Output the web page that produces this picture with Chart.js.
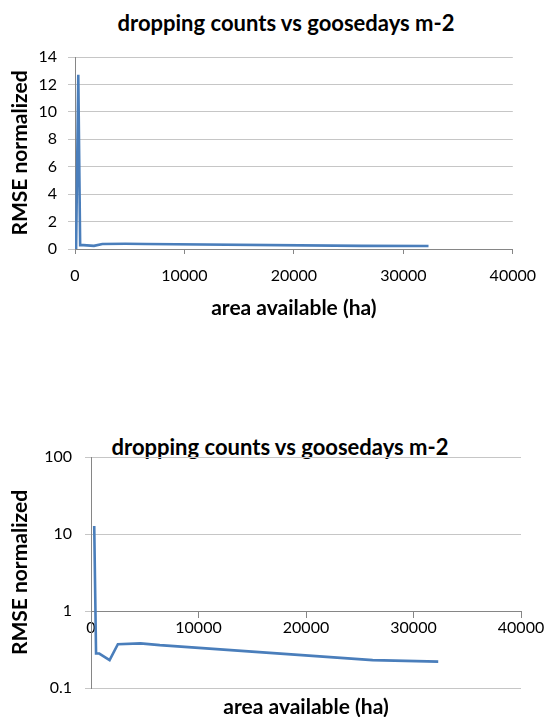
<!DOCTYPE html>
<html>
<head>
<meta charset="utf-8">
<script src="https://cdn.jsdelivr.net/npm/chart.js@4.4.1/dist/chart.umd.min.js"></script>
<style>
  html, body { margin: 0; padding: 0; background: #ffffff; }
  body { width: 548px; height: 717px; position: relative; overflow: hidden; font-family: Lato, "Open Sans", sans-serif; }
  .box { position: absolute; left: 0; width: 548px; }
  .ttl { position: absolute; transform: translate(-50%, -50%); white-space: nowrap; font-weight: bold; font-size: 22px; line-height: 26px; color: #000; font-family: Lato, "Open Sans", sans-serif; }
</style>
</head>
<body>
<div class="ttl" id="t1" style="left:286px; top:23px;"></div>
<div class="box" style="top:0; height:321px;"><canvas id="c1"></canvas></div>
<div class="ttl" id="t2" style="left:280px; top:447px;"></div>
<div class="box" style="top:430px; height:287px;"><canvas id="c2"></canvas></div>
<script>
// ---- data ----
const chartTitle = "dropping counts vs goosedays m-2";
const xAxisTitle = "area available (ha)";
const yAxisTitle = "RMSE normalized";
const areaHa = [100, 300, 470, 770, 1730, 2500, 4600, 6400, 26200, 32300];
const rmseNormalized = [0, 12.7, 0.28, 0.28, 0.23, 0.37, 0.38, 0.36, 0.23, 0.22];
const xTicks = [0, 10000, 20000, 30000, 40000];
const yTicksLinear = [0, 2, 4, 6, 8, 10, 12, 14];
const yTicksLog = [0.1, 1, 10, 100];

document.getElementById('t1').textContent = chartTitle;
document.getElementById('t2').textContent = chartTitle;

const FONT = "Lato, 'Open Sans', sans-serif";
const LINE = '#4a7ebb';
const GRID = '#c6c6c6';
const AXIS = '#868686';
const TXT = '#000000';
const TICK_SIZE = 16;
const AXT_SIZE = 21;

const linearPts = areaHa.map((x, i) => ({ x: x, y: rmseNormalized[i] }));
const logPts = areaHa.map((x, i) => ({ x: x, y: rmseNormalized[i] > 0 ? rmseNormalized[i] : null }));

function fixTicks(values) {
  return function (scale) { scale.ticks = values.map(v => ({ value: v })); };
}

const dsBase = { borderColor: LINE, borderWidth: 2.6, pointRadius: 0, tension: 0, fill: false };

new Chart(document.getElementById('c1'), {
  type: 'line',
  data: { datasets: [Object.assign({ data: linearPts }, dsBase)] },
  options: {
    responsive: true, maintainAspectRatio: false, animation: false,
    layout: { padding: { left: 0, right: 29, top: 57, bottom: 0 } },
    plugins: { legend: { display: false }, title: { display: false }, tooltip: { enabled: false } },
    scales: {
      x: {
        type: 'linear', min: 0, max: 40000,
        afterBuildTicks: fixTicks(xTicks),
        afterFit: s => { s.height = 72; },
        grid: { drawOnChartArea: false, drawTicks: true, tickLength: 5, color: AXIS },
        border: { color: AXIS, width: 1 },
        ticks: { color: TXT, font: { family: FONT, size: TICK_SIZE }, padding: 12, maxRotation: 0, callback: v => String(v) },
        title: { display: true, text: xAxisTitle, color: TXT, font: { family: FONT, size: AXT_SIZE, weight: 'bold' }, padding: { top: 0, bottom: 0 } }
      },
      y: {
        type: 'linear', min: 0, max: 14,
        afterBuildTicks: fixTicks(yTicksLinear),
        afterFit: s => { s.width = 75; },
        grid: { color: GRID, lineWidth: 1, drawTicks: true, tickLength: 7 },
        border: { color: AXIS, width: 1 },
        ticks: { color: TXT, font: { family: FONT, size: TICK_SIZE }, padding: 11, callback: v => String(v) },
        title: { display: true, text: yAxisTitle, color: TXT, font: { family: FONT, size: AXT_SIZE, weight: 'bold' }, padding: { top: 8, bottom: 0 } }
      }
    }
  }
});

new Chart(document.getElementById('c2'), {
  type: 'line',
  data: { datasets: [Object.assign({ data: logPts }, dsBase)] },
  options: {
    responsive: true, maintainAspectRatio: false, animation: false,
    layout: { padding: { left: 0, right: 27, top: 27, bottom: 29 } },
    plugins: { legend: { display: false }, title: { display: false }, tooltip: { enabled: false } },
    scales: {
      x: {
        type: 'linear', min: 0, max: 40000, position: { y: 1 },
        afterBuildTicks: fixTicks(xTicks),
        afterFit: s => { s.height = 109; },
        grid: { drawOnChartArea: false, drawTicks: true, tickLength: 6, color: AXIS },
        border: { color: AXIS, width: 1 },
        ticks: { color: TXT, font: { family: FONT, size: TICK_SIZE }, padding: 1, maxRotation: 0, callback: v => String(v) },
        title: { display: true, text: xAxisTitle, color: TXT, font: { family: FONT, size: AXT_SIZE, weight: 'bold' }, padding: { top: 0, bottom: 0 } }
      },
      y: {
        type: 'logarithmic', min: 0.1, max: 100,
        afterBuildTicks: fixTicks(yTicksLog),
        afterFit: s => { s.width = 91; },
        grid: { color: GRID, lineWidth: 1, drawTicks: true, tickLength: 6 },
        border: { color: AXIS, width: 1 },
        ticks: { color: TXT, font: { family: FONT, size: TICK_SIZE }, padding: 13, autoSkip: false, callback: v => String(v) },
        title: { display: true, text: yAxisTitle, color: TXT, font: { family: FONT, size: AXT_SIZE, weight: 'bold' }, padding: { top: 8, bottom: 0 } }
      }
    }
  }
});
</script>
</body>
</html>
